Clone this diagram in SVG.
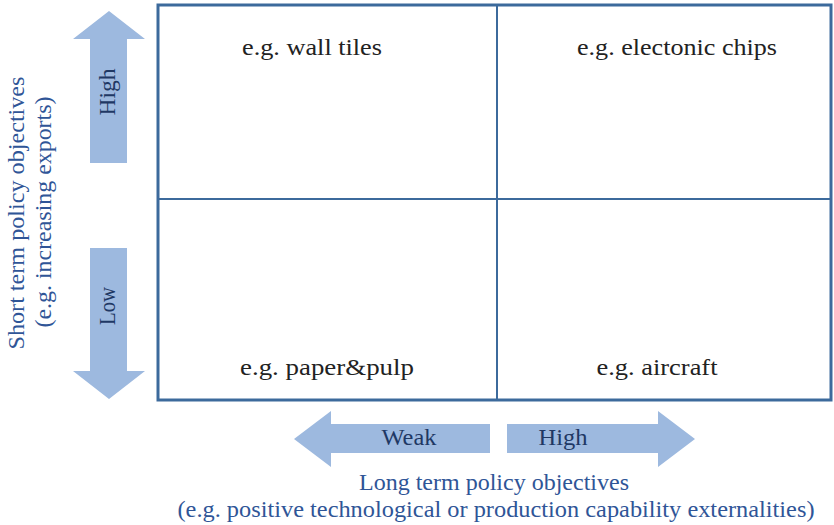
<svg xmlns="http://www.w3.org/2000/svg" width="834" height="525" viewBox="0 0 834 525">
<style>
.arr{fill:#9db9df}
.q{font-family:"Liberation Serif",serif;font-size:23px;fill:#222;text-anchor:middle}
.a{font-family:"Liberation Serif",serif;font-size:23px;fill:#1f3864;text-anchor:middle}
.ax{font-family:"Liberation Serif",serif;font-size:23px;fill:#2f5597;text-anchor:middle}
</style>
<rect width="834" height="525" fill="#fff"/>
<g id="grid">
<rect x="158" y="5" width="673" height="395" fill="#fff" stroke="#3c6a9c" stroke-width="3"/>
<line x1="497" y1="5" x2="497" y2="400" stroke="#3c6a9c" stroke-width="2"/>
<line x1="158" y1="199" x2="831" y2="199" stroke="#3c6a9c" stroke-width="2"/>
</g>
<g id="q-tl"><text class="q" x="312" y="55" textLength="140" lengthAdjust="spacingAndGlyphs">e.g. wall tiles</text></g>
<g id="q-tr"><text class="q" x="677" y="55" textLength="200" lengthAdjust="spacingAndGlyphs">e.g. electonic chips</text></g>
<g id="q-bl"><text class="q" x="327" y="375" textLength="174" lengthAdjust="spacingAndGlyphs">e.g. paper&amp;pulp</text></g>
<g id="q-br"><text class="q" x="657" y="375" textLength="121" lengthAdjust="spacingAndGlyphs">e.g. aircraft</text></g>
<g id="arrow-high-v">
<polygon class="arr" points="109,11 145,39 127,39 127,163 90,163 90,39 73,39"/>
<text class="a" transform="translate(115,92) rotate(-90)" textLength="47" lengthAdjust="spacingAndGlyphs">High</text>
</g>
<g id="arrow-low-v">
<polygon class="arr" points="90,248 127,248 127,371 145,371 109,399 73,371 90,371"/>
<text class="a" transform="translate(115,306) rotate(-90)" textLength="38" lengthAdjust="spacingAndGlyphs">Low</text>
</g>
<g id="arrow-weak">
<polygon class="arr" points="294,439 331,411 331,424 490,424 490,453 331,453 331,467"/>
<text class="a" x="409" y="445" textLength="55" lengthAdjust="spacingAndGlyphs">Weak</text>
</g>
<g id="arrow-high-h">
<polygon class="arr" points="507,424 658,424 658,411 695,439 658,467 658,453 507,453"/>
<text class="a" x="563" y="445" textLength="49" lengthAdjust="spacingAndGlyphs">High</text>
</g>
<g id="y-label">
<text class="ax" transform="translate(24,213) rotate(-90)" textLength="273" lengthAdjust="spacingAndGlyphs">Short term policy objectives</text>
<text class="ax" transform="translate(51,212) rotate(-90)" textLength="231" lengthAdjust="spacingAndGlyphs">(e.g. increasing exports)</text>
</g>
<g id="x-label">
<text class="ax" x="494" y="490" textLength="270" lengthAdjust="spacingAndGlyphs">Long term policy objectives</text>
<text class="ax" x="496" y="517" textLength="637" lengthAdjust="spacingAndGlyphs">(e.g. positive technological or production capability externalities)</text>
</g>
</svg>
